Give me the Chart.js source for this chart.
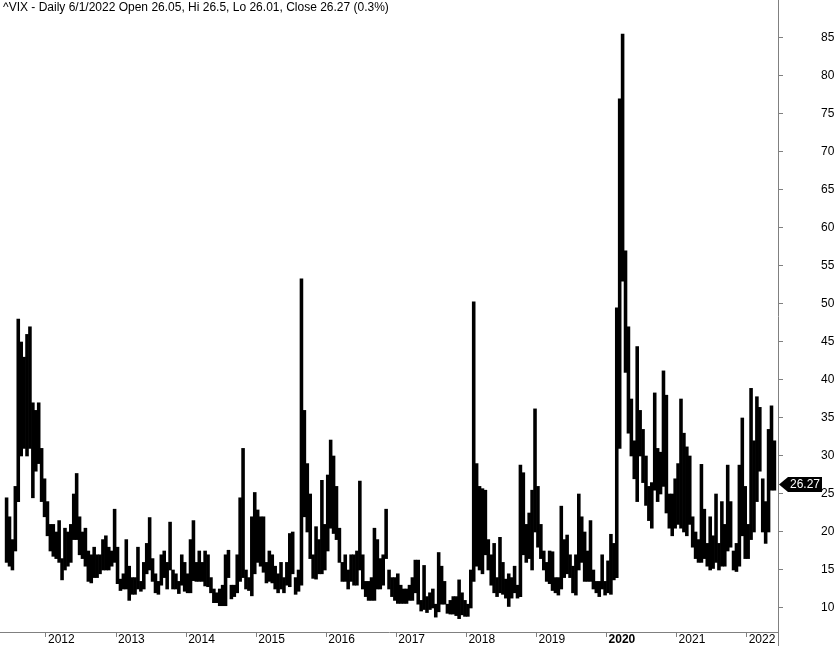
<!DOCTYPE html>
<html>
<head>
<meta charset="utf-8">
<title>^VIX - Daily</title>
<script src="https://cdn.jsdelivr.net/npm/chart.js@4.4.1/dist/chart.umd.min.js"></script>
<style>
  html, body { margin: 0; padding: 0; background: #fff; }
  #wrap { width: 836px; height: 650px; }
</style>
</head>
<body>
<div id="wrap"><canvas id="vixChart" width="836" height="650"></canvas></div>
<script>
const titleText = '^VIX - Daily 6/1/2022 Open 26.05, Hi 26.5, Lo 26.01, Close 26.27 (0.3%)';
const lastClose = 26.27;

// bars are half-month high/low ranges, first one is the first half of June 2011
const firstYear = 2011;
const firstMonth = 6;

const yearTicks = [2012, 2013, 2014, 2015, 2016, 2017, 2018, 2019, 2020, 2021, 2022];
const priceTicks = [10, 15, 20, 25, 30, 35, 40, 45, 50, 55, 60, 65, 70, 75, 80, 85];

const lows = [
  16, 15.5, 15, 17.5, 24, 30, 31, 30, 31, 24.5, 28, 29, 24, 22, // 2011 jun-dec
  19.5, 17.5, 16.8, 16.5, 16, 13.7, 15, 15.5, 16, 19, 19, 17, 16.5, 15.5, 13.5, 13.3, 14, 14, 14.5, 15, 15, 15, 15.5, 16, // 2012
  13.2, 12.3, 12.5, 12.5, 11, 11.8, 11.8, 12.5, 12.2, 12.5, 14.5, 15, 13.5, 12, 11.8, 13, 14, 12.5, 15, 12.5, 12.5, 11.9, 13, 12.2, // 2013
  12, 12, 13.6, 13.5, 13.5, 13.5, 12.9, 12.8, 12, 10.7, 10.7, 10.3, 10.3, 10.3, 14, 11.2, 11.5, 12, 13.5, 14, 12.5, 12.3, 11.6, 14.5, // 2014
  16, 15.5, 14.7, 13.3, 13.5, 13.3, 12.5, 12, 12.5, 12, 13, 12.8, 14.5, 11.8, 12.2, 13, 22, 20, 16.5, 13.9, 13.8, 14.5, 14.5, 15, // 2015
  17.5, 20.5, 19.8, 19, 16, 13.5, 13.5, 12.5, 13.5, 13, 13, 15, 12.5, 11.5, 11, 11, 11, 12.5, 12.5, 13, 16.5, 12.5, 11.5, 11, // 2016
  10.6, 10.6, 10.6, 10.6, 11, 11, 12, 10.5, 9.6, 9.8, 9.4, 9.8, 10, 8.8, 9.5, 10.5, 10.5, 9.3, 9.2, 9.2, 9, 8.6, 9.1, 8.9, // 2017
  8.9, 10, 13.5, 15.5, 15, 14.5, 17, 15, 13, 12, 11.5, 12, 11.8, 11.3, 10.2, 11.3, 12, 11.3, 11.5, 17, 16, 16.5, 15, 20, // 2018
  18, 16.5, 15, 13.5, 13.2, 12.3, 12, 11.7, 12.5, 14, 14.5, 14, 12, 11.7, 15, 16, 13.5, 13.5, 13.5, 12.5, 12, 11.5, 12.5, 11.7, // 2019
  12, 11.8, 13.7, 14, 31, 53, 41, 33, 30, 27, 24, 30, 26.5, 23.5, 21.5, 20.5, 25.5, 24, 25, 26, 22.5, 20.5, 19.5, 20.5, // 2020
  21, 20.5, 20, 19.5, 21, 18, 16.5, 16, 16, 16.5, 15.5, 15, 15.2, 16, 15, 15.5, 15.5, 17.5, 18, 15, 14.8, 15.5, 19.5, 16.5, // 2021
  16.5, 19, 20, 24, 28, 20, 18.5, 20, 25.5, 25.5 // 2022 jan-may
];

const highs = [
  24.5, 22, 19, 26, 48, 45, 43, 46, 47, 37, 36, 37, 31, 27, // 2011 jun-dec
  24, 21, 21, 20, 21.5, 16.5, 20.5, 20, 21, 25, 27.7, 22, 20, 20.5, 17.5, 17, 18, 17, 17, 19, 19.5, 18, 17.5, 23, // 2012
  18, 13.8, 14.5, 19, 15.5, 14, 14, 18, 13.5, 16, 18.5, 21.9, 16.5, 14.5, 13.5, 17, 17.5, 16, 21.3, 15, 14.5, 13.5, 17, 16, // 2013
  14.5, 19, 21.5, 16, 17.5, 16, 17.5, 17, 14, 12.5, 12, 12.5, 13, 17, 17.6, 13, 13, 17, 24.5, 31, 15, 14, 22, 25.2, // 2014
  22.9, 22, 22, 16, 17.5, 17, 15.5, 14.5, 16, 14, 16, 19.8, 20, 14, 15, 53.3, 36, 29, 25, 17, 20.7, 19, 26.8, 21, // 2015
  27.5, 32.1, 30, 26, 20.5, 16, 17, 15, 17, 17, 17.5, 26.7, 17, 13.5, 13.5, 14, 20.5, 19, 16.5, 17, 23, 15, 14, 14, // 2016
  14.5, 13, 12.5, 12.5, 13, 14, 16.3, 16.3, 11, 15.6, 11.5, 12, 12.5, 10.5, 17.3, 15.5, 13.5, 10.5, 11, 11.5, 11.5, 13.7, 12, 11, // 2017
  10.5, 15, 50.3, 29, 26, 25.7, 25.5, 19, 17, 18.5, 14, 19.3, 16, 13.8, 14.5, 14, 15.5, 13, 28.8, 27.8, 21, 22.5, 25.5, 36.2, // 2018
  26, 21, 17.5, 16, 17.5, 17.4, 14, 14, 23.4, 19, 19.6, 17, 15.5, 17, 25, 22, 20, 17.5, 21.5, 15, 13.5, 13.5, 17, 13.5, // 2019
  16.2, 19.7, 18.5, 49.5, 77, 85.5, 57, 47, 37.5, 32, 44.4, 36, 33.5, 30, 26, 26.5, 38.3, 31, 30.5, 41.2, 38, 25, 25, 27, // 2020
  29, 37.5, 33, 31.2, 30, 22, 20, 19, 28.9, 23, 18.5, 22, 19.5, 25, 18.5, 24, 21, 28.8, 24, 17.5, 18.5, 28.8, 35, 26, // 2021
  21, 38.9, 32, 37.8, 36.4, 27, 24, 33.5, 36.6, 32 // 2022 jan-may
];

// each bar sits in the middle of its half month
const bars = lows.map((lo, i) => {
  const half = (firstMonth - 1) * 2 + i;
  return { x: firstYear + (half + 0.5) / 24, y: [lo, highs[i]] };
});

const axisGray = '#808080';
const tickFont = { family: '"Liberation Sans", Arial, sans-serif', size: 12 };

// title, last price flag and the axis stub below the dates
const overlay = {
  id: 'overlay',
  afterDraw(chart) {
    const { ctx, chartArea, scales } = chart;
    ctx.save();

    ctx.strokeStyle = axisGray;
    ctx.lineWidth = 1;
    ctx.beginPath();
    ctx.moveTo(chartArea.right + 0.5, chartArea.bottom);
    ctx.lineTo(chartArea.right + 0.5, 646);
    ctx.stroke();

    ctx.font = '12px "Liberation Sans", Arial, sans-serif';
    ctx.fillStyle = '#000';
    ctx.textAlign = 'left';
    ctx.textBaseline = 'top';
    ctx.fillText(titleText, 3, 2);

    const py = Math.round(scales.y.getPixelForValue(lastClose)) + 0.5;
    const x0 = chartArea.right + 1;
    ctx.beginPath();
    ctx.moveTo(x0, py);
    ctx.lineTo(x0 + 9, py - 7.5);
    ctx.lineTo(x0 + 43, py - 7.5);
    ctx.lineTo(x0 + 43, py + 7.5);
    ctx.lineTo(x0 + 9, py + 7.5);
    ctx.closePath();
    ctx.fill();
    ctx.fillStyle = '#fff';
    ctx.textBaseline = 'middle';
    ctx.fillText(lastClose.toFixed(2), x0 + 11, py + 0.5);

    ctx.restore();
  }
};

new Chart(document.getElementById('vixChart'), {
  type: 'bar',
  data: {
    datasets: [{
      data: bars,
      backgroundColor: '#000',
      borderWidth: 0,
      barPercentage: 1,
      categoryPercentage: 1
    }]
  },
  options: {
    responsive: false,
    animation: false,
    layout: { padding: 0 },
    plugins: {
      legend: { display: false },
      tooltip: { enabled: false }
    },
    scales: {
      x: {
        type: 'linear',
        min: 2011.3435,
        max: 2022.447,
        offset: false,
        afterBuildTicks: (s) => { s.ticks = yearTicks.map(v => ({ value: v })); },
        afterFit: (s) => { s.height = 18; },
        grid: { drawOnChartArea: false, drawTicks: true, tickLength: 5, color: axisGray, offset: false },
        border: { color: axisGray },
        ticks: {
          autoSkip: false,
          maxRotation: 0,
          align: 'start',
          labelOffset: 2,
          padding: -5,
          color: '#000',
          font: (c) => ({ ...tickFont, weight: c.tick && c.tick.value === 2020 ? 'bold' : 'normal' }),
          callback: (v) => String(v)
        }
      },
      y: {
        position: 'right',
        min: 6.842,
        max: 90,
        afterBuildTicks: (s) => { s.ticks = priceTicks.map(v => ({ value: v })); },
        // fixed width; the label padding must not shrink the plot vertically
        afterFit: (s) => { s.width = 58; s.paddingTop = 0; s.paddingBottom = 0; },
        grid: { drawOnChartArea: false, drawTicks: true, tickLength: 5, color: axisGray },
        border: { color: axisGray },
        ticks: {
          crossAlign: 'near',
          padding: 38,
          color: '#000',
          font: tickFont,
          callback: (v) => String(v)
        }
      }
    }
  },
  plugins: [overlay]
});
</script>
</body>
</html>
